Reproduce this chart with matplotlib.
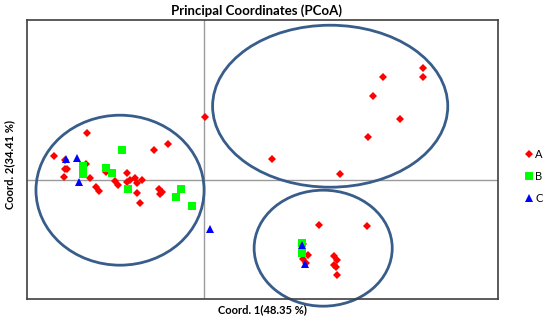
import matplotlib
matplotlib.use("Agg")
import matplotlib.pyplot as plt
from matplotlib.patches import Ellipse

plt.rcParams["font.family"] = ["Lato", "DejaVu Sans"]

# group A (red diamonds)
a_x = [0.01, -1.17, -1.50, -1.39, -1.39, -1.37, -1.40, -1.14, -1.18, -0.98,
       -0.50, -0.36, -0.77, -1.08, -1.05, -0.89, -0.86, -0.77, -0.74, -0.69,
       -0.67, -0.62, -0.67, -0.64, -0.45, -0.42, -0.44,
       2.19, 2.19, 1.79, 1.69, 1.96, 1.64, 0.68, 1.36,
       1.15, 1.63, 0.99, 1.04, 0.99, 1.02, 1.30, 1.33, 1.30, 1.32, 1.33]
a_y = [0.63, 0.47, 0.24, 0.20, 0.11, 0.11, 0.03, 0.02, 0.16, 0.08,
       0.30, 0.36, 0.07, -0.07, -0.11, -0.01, -0.05, -0.02, 0.00, 0.02,
       -0.03, 0.00, -0.13, -0.23, -0.09, -0.12, -0.14,
       1.12, 1.03, 1.03, 0.84, 0.61, 0.43, 0.21, 0.06,
       -0.45, -0.46, -0.64, -0.75, -0.79, -0.83, -0.76, -0.80, -0.85, -0.87, -0.95]

# group B (green squares)
b_x = [-0.82, -1.21, -1.21, -0.98, -0.92, -0.76, -0.23, -0.28, -0.12, 0.98, 0.98]
b_y = [0.30, 0.14, 0.06, 0.12, 0.07, -0.09, -0.09, -0.17, -0.26, -0.63, -0.73]

# group C (blue triangles)
c_x = [-1.38, -1.27, -1.25, 0.06, 0.98, 1.01]
c_y = [0.21, 0.22, -0.02, -0.49, -0.65, -0.84]

# cluster ellipses: centre x, centre y, width, height
ell_cx = [-0.84, 1.26, 1.19]
ell_cy = [-0.10, 0.74, -0.68]
ell_w = [1.68, 2.35, 1.38]
ell_h = [1.50, 1.62, 1.16]

fig = plt.figure(figsize=(5.5, 3.21), dpi=100)
ax = fig.add_axes([0.049, 0.068, 0.857, 0.869])

ax.axhline(0, color="#9a9a9a", lw=1, zorder=1)
ax.axvline(0, color="#9a9a9a", lw=1, zorder=1)

for cx, cy, w, h in zip(ell_cx, ell_cy, ell_w, ell_h):
    e = Ellipse((cx, cy), w, h, fill=False, edgecolor="#385d8a", lw=2,
                clip_on=False, zorder=2)
    ax.add_patch(e)

ax.plot(a_x, a_y, "D", color="#ff0000", ms=4.5, mew=0, ls="none", label="A", zorder=3)
ax.plot(b_x, b_y, "s", color="#00ff00", ms=5.5, mew=0, ls="none", label="B", zorder=3)
ax.plot(c_x, c_y, "^", color="#0000ff", ms=6, mew=0, ls="none", label="C", zorder=3)

ax.set_xlim(-1.77, 2.94)
ax.set_ylim(-1.19, 1.60)
ax.set_xticks([])
ax.set_yticks([])
for s in ax.spines.values():
    s.set_color("#404040")
    s.set_linewidth(1.2)

fig.text(0.466, 0.966, "Principal Coordinates (PCoA)", ha="center", va="center",
         fontsize=9.5, fontweight="bold")
fig.text(0.478, 0.034, "Coord. 1(48.35 %)", ha="center", va="center",
         fontsize=8, fontweight="bold")
fig.text(0.018, 0.486, "Coord. 2(34.41 %)", ha="center", va="center",
         fontsize=8, fontweight="bold", rotation=90)

fig.legend(loc="center left", bbox_to_anchor=(0.943, 0.45), frameon=False,
           fontsize=8, handletextpad=0.1, labelspacing=1.0, handlelength=1,
           borderaxespad=0)

fig.savefig("out.png", dpi=100)
